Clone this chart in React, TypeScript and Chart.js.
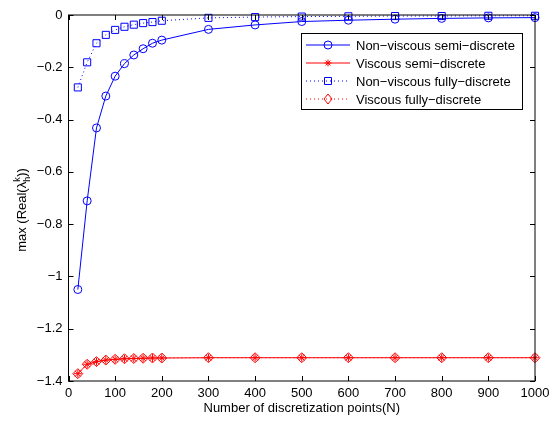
import React, { useEffect, useRef } from "react";
import { Chart, registerables } from "chart.js";

Chart.register(...registerables);

const N = [20, 40, 60, 80, 100, 120, 140, 160, 180, 200, 300, 400, 500, 600, 700, 800, 900, 1000];
const nonViscousSemi = [-1.05, -0.711, -0.432, -0.31, -0.234, -0.186, -0.153, -0.129, -0.108, -0.096, -0.055, -0.038, -0.025, -0.02, -0.016, -0.013, -0.011, -0.01];
const viscousSemi = [-1.372, -1.336, -1.326, -1.32, -1.317, -1.315, -1.314, -1.313, -1.312, -1.312, -1.311, -1.311, -1.311, -1.311, -1.311, -1.311, -1.311, -1.311];
const nonViscousFully = [-0.277, -0.181, -0.108, -0.076, -0.057, -0.045, -0.037, -0.031, -0.027, -0.022, -0.011, -0.008, -0.006, -0.005, -0.004, -0.004, -0.003, -0.003];
const viscousFully = [-1.372, -1.336, -1.326, -1.32, -1.317, -1.315, -1.314, -1.313, -1.312, -1.312, -1.311, -1.311, -1.311, -1.311, -1.311, -1.311, -1.311, -1.311];
const seriesLabels = ["Non−viscous semi−discrete", "Viscous semi−discrete", "Non−viscous fully−discrete", "Viscous fully−discrete"];
const xTitle = "Number of discretization points(N)";

const FONT = "Liberation Sans, Arial, Helvetica, sans-serif";
const BLUE = "#0000ff";
const RED = "#ff0000";

function drawMarker(ctx: CanvasRenderingContext2D, style: string, x: number, y: number, color: string) {
  ctx.save();
  ctx.strokeStyle = color;
  ctx.lineWidth = 1;
  ctx.setLineDash([]);
  ctx.beginPath();
  if (style === "circle") {
    ctx.arc(x, y, 4, 0, Math.PI * 2);
  } else if (style === "rect") {
    ctx.rect(x - 3.5, y - 3.5, 7, 7);
  } else if (style === "rectRot") {
    ctx.moveTo(x, y - 5);
    ctx.lineTo(x + 4, y);
    ctx.lineTo(x, y + 5);
    ctx.lineTo(x - 4, y);
    ctx.closePath();
  } else if (style === "star") {
    const r = 3.5;
    ctx.moveTo(x - r, y); ctx.lineTo(x + r, y);
    ctx.moveTo(x, y - r); ctx.lineTo(x, y + r);
    const d = r * 0.7;
    ctx.moveTo(x - d, y - d); ctx.lineTo(x + d, y + d);
    ctx.moveTo(x - d, y + d); ctx.lineTo(x + d, y - d);
  }
  ctx.stroke();
  ctx.restore();
}

const decorPlugin = {
  id: "decor",
  afterDatasetsDraw(chart: any) {
    const { ctx, chartArea: a, scales } = chart;
    ctx.save();
    ctx.strokeStyle = "#000";
    ctx.lineWidth = 1;
    ctx.setLineDash([]);
    ctx.strokeRect(a.left, a.top, a.right - a.left, a.bottom - a.top);
    const tl = 5;
    ctx.beginPath();
    for (let v = 0; v <= 1000; v += 100) {
      const px = Math.round(scales.x.getPixelForValue(v)) + 0.5;
      ctx.moveTo(px, a.bottom); ctx.lineTo(px, a.bottom - tl);
      ctx.moveTo(px, a.top); ctx.lineTo(px, a.top + tl);
    }
    for (let i = 0; i <= 7; i++) {
      const v = -0.2 * i;
      const py = Math.round(scales.y.getPixelForValue(v)) + 0.5;
      ctx.moveTo(a.left, py); ctx.lineTo(a.left + tl, py);
      ctx.moveTo(a.right, py); ctx.lineTo(a.right - tl, py);
    }
    ctx.stroke();
    ctx.restore();
  },
  afterDraw(chart: any) {
    const { ctx, chartArea: a } = chart;
    ctx.save();
    ctx.fillStyle = "#000";
    ctx.font = `13px ${FONT}`;
    ctx.textAlign = "center";
    ctx.textBaseline = "middle";
    ctx.fillText(xTitle, (a.left + a.right) / 2, 408);
    ctx.save();
    ctx.translate(22, 210);
    ctx.rotate(-Math.PI / 2);
    const p1 = "max (Real(λ";
    const p3 = "))";
    ctx.font = `13px ${FONT}`;
    const w1 = ctx.measureText(p1).width;
    ctx.font = `9px ${FONT}`;
    const ws = Math.max(ctx.measureText("k").width, ctx.measureText("h").width);
    ctx.font = `13px ${FONT}`;
    const w3 = ctx.measureText(p3).width;
    const total = w1 + ws + w3;
    const x0 = -total / 2;
    ctx.textAlign = "left";
    ctx.textBaseline = "alphabetic";
    ctx.fillText(p1, x0, 4);
    ctx.font = `9px ${FONT}`;
    ctx.fillText("k", x0 + w1, -2);
    ctx.fillText("h", x0 + w1, 8);
    ctx.font = `13px ${FONT}`;
    ctx.fillText(p3, x0 + w1 + ws, 4);
    ctx.restore();

    const lx = 301, ly = 33, lw = 221, lh = 76;
    ctx.fillStyle = "#fff";
    ctx.fillRect(lx, ly, lw, lh);
    ctx.strokeStyle = "#000";
    ctx.lineWidth = 1;
    ctx.setLineDash([]);
    ctx.strokeRect(lx + 0.5, ly + 0.5, lw, lh);
    const ds = chart.data.datasets;
    ds.forEach((d: any, i: number) => {
      const y = 45 + i * 18;
      ctx.save();
      ctx.strokeStyle = d.borderColor;
      ctx.lineWidth = d.borderWidth;
      ctx.setLineDash(d.borderDash || []);
      ctx.beginPath();
      ctx.moveTo(306, y); ctx.lineTo(350, y);
      ctx.stroke();
      ctx.restore();
      drawMarker(ctx, d.pointStyle, 328, y, d.borderColor);
      ctx.fillStyle = "#000";
      ctx.font = `13px ${FONT}`;
      ctx.textAlign = "left";
      ctx.textBaseline = "middle";
      ctx.fillText(d.label, 356, y + 1);
    });
    ctx.restore();
  },
};

export default function App() {
  const ref = useRef<HTMLCanvasElement>(null);
  useEffect(() => {
    if (!ref.current) return;
    const mk = (data: number[], label: string, color: string, style: string, dash: number[], radius: number) => ({
      label,
      data: N.map((n, i) => ({ x: n, y: data[i] })),
      borderColor: color,
      backgroundColor: "rgba(0,0,0,0)",
      borderWidth: 1,
      borderDash: dash,
      pointStyle: style,
      pointRadius: radius,
      pointBorderWidth: 1,
      pointBorderColor: color,
      pointBackgroundColor: "rgba(0,0,0,0)",
      clip: false as any,
      tension: 0,
    });
    const chart = new Chart(ref.current, {
      type: "line",
      data: {
        datasets: [
          mk(nonViscousSemi, seriesLabels[0], BLUE, "circle", [], 4),
          mk(viscousSemi, seriesLabels[1], RED, "star", [], 4),
          mk(nonViscousFully, seriesLabels[2], BLUE, "rect", [1, 3], 5),
          mk(viscousFully, seriesLabels[3], RED, "rectRot", [1, 3], 5),
        ],
      },
      options: {
        animation: false,
        responsive: true,
        maintainAspectRatio: false,
        layout: { padding: { top: 15, right: 14, left: 0, bottom: 0 } },
        plugins: { legend: { display: false }, tooltip: { enabled: false } },
        scales: {
          x: {
            type: "linear",
            min: 0,
            max: 1000,
            grid: { display: false, drawTicks: false },
            border: { display: false },
            ticks: {
              stepSize: 100,
              color: "#000",
              font: { family: FONT, size: 13 },
              padding: 5,
              maxRotation: 0,
              callback: (v: any) => String(Math.round(Number(v))),
            },
            afterFit: (s: any) => { s.height = 40; s.paddingLeft = 0; s.paddingRight = 0; },
          },
          y: {
            type: "linear",
            min: -1.4,
            max: 0,
            grid: { display: false, drawTicks: false },
            border: { display: false },
            ticks: {
              stepSize: 0.2,
              color: "#000",
              font: { family: FONT, size: 13 },
              padding: 6,
              callback: (v: any) => {
                const n = Number(Number(v).toFixed(1));
                return n === 0 ? "0" : String(n).replace("-", "−");
              },
            },
            afterFit: (s: any) => { s.width = 68.5; s.paddingTop = 0; s.paddingBottom = 0; },
          },
        },
      },
      plugins: [decorPlugin],
    });
    return () => chart.destroy();
  }, []);
  return (
    <div style={{ position: "absolute", left: 0, top: 0, width: 549, height: 421, background: "#fff" }}>
      <canvas ref={ref} />
    </div>
  );
}
